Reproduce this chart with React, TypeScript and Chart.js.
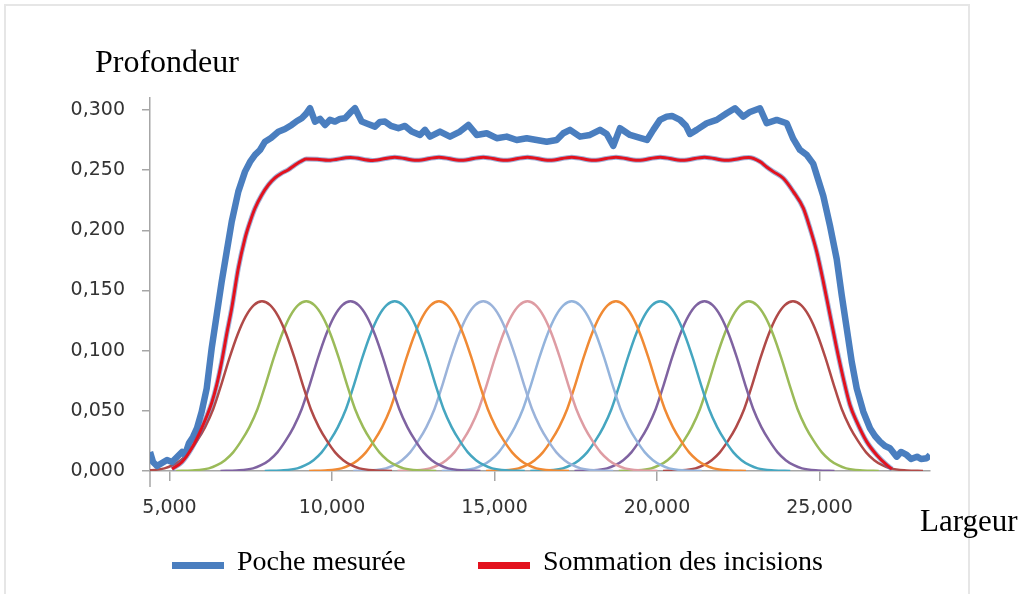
import React, { useEffect, useRef } from 'react';
import { Chart, registerables } from 'chart.js';

Chart.register(...registerables);

// ---- axis / labels ----
const xTickValues = [5000, 10000, 15000, 20000, 25000];
const yTickValues = [0, 0.05, 0.1, 0.15, 0.2, 0.25, 0.3];
const xAxisTitle = 'Largeur';
const yAxisTitle = 'Profondeur';
const legendLabels = ['Poche mesurée', 'Sommation des incisions'];

// ---- measured pocket (blue) ----
const measuredX = [4400, 4492, 4615, 4769, 4923, 5077, 5231, 5385, 5477, 5600, 5723, 5846, 5991, 6145, 6298, 6452, 6606, 6760, 6914, 7117, 7323, 7477, 7631, 7785, 7938, 8123, 8348, 8554, 8760, 8923, 9068, 9200, 9323, 9477, 9631, 9785, 9938, 10092, 10246, 10400, 10554, 10708, 10914, 11108, 11323, 11477, 11631, 11815, 12040, 12246, 12452, 12708, 12862, 13015, 13323, 13631, 13938, 14194, 14452, 14760, 15068, 15375, 15683, 15991, 16298, 16606, 16914, 17117, 17323, 17631, 17938, 18246, 18452, 18655, 18862, 19169, 19477, 19692, 19886, 20092, 20298, 20462, 20708, 20892, 21015, 21221, 21529, 21837, 22145, 22400, 22655, 22862, 23169, 23375, 23683, 23991, 24194, 24400, 24606, 24809, 24963, 25117, 25323, 25529, 25683, 25837, 25991, 26145, 26348, 26554, 26708, 26862, 27015, 27169, 27375, 27508, 27683, 27815, 28000, 28123, 28298, 28400];
const measuredY = [0.0158, 0.0075, 0.0042, 0.0067, 0.0091, 0.0075, 0.0116, 0.0158, 0.0133, 0.0233, 0.0283, 0.0357, 0.0493, 0.0687, 0.1020, 0.1297, 0.1574, 0.1823, 0.2072, 0.2322, 0.2488, 0.2569, 0.2627, 0.2668, 0.2737, 0.2768, 0.2820, 0.2843, 0.2876, 0.2909, 0.2932, 0.2968, 0.3015, 0.2904, 0.2926, 0.2876, 0.2918, 0.2904, 0.2926, 0.2932, 0.2976, 0.3015, 0.2904, 0.2884, 0.2862, 0.2901, 0.2904, 0.2868, 0.2849, 0.2868, 0.2821, 0.2793, 0.2835, 0.2779, 0.2821, 0.2779, 0.2821, 0.2876, 0.2793, 0.2807, 0.2766, 0.2779, 0.2751, 0.2766, 0.2751, 0.2737, 0.2751, 0.2807, 0.2835, 0.2779, 0.2793, 0.2835, 0.2801, 0.2702, 0.2849, 0.2793, 0.2768, 0.2751, 0.2835, 0.2918, 0.2945, 0.2951, 0.2918, 0.2868, 0.2801, 0.2835, 0.2890, 0.2918, 0.2973, 0.3015, 0.2945, 0.2984, 0.3015, 0.2890, 0.2918, 0.2890, 0.2760, 0.2668, 0.2627, 0.2552, 0.2419, 0.2286, 0.2038, 0.1762, 0.1463, 0.1186, 0.0909, 0.0687, 0.0493, 0.0355, 0.0291, 0.0244, 0.0208, 0.0189, 0.0119, 0.0158, 0.0133, 0.0100, 0.0119, 0.0100, 0.0106, 0.0133];

// ---- sum of incisions (red) ----
const sumX = [5077, 5385, 5683, 5991, 6298, 6452, 6606, 6760, 6914, 7117, 7323, 7477, 7631, 7837, 8040, 8246, 8452, 8646, 8862, 9068, 9208, 9550, 9888, 10569, 11250, 11931, 12611, 13292, 13973, 14654, 15334, 16015, 16696, 17377, 18057, 18738, 19419, 20100, 20780, 21461, 22142, 22823, 23169, 23375, 23578, 23886, 24194, 24502, 24708, 24914, 25117, 25323, 25529, 25732, 25938, 26145, 26452, 26760, 27068, 27231];
const sumY = [0.0017, 0.0075, 0.0189, 0.0357, 0.0565, 0.0715, 0.0909, 0.1139, 0.1352, 0.1685, 0.1934, 0.2070, 0.2184, 0.2294, 0.2377, 0.2436, 0.2475, 0.2502, 0.2544, 0.2577, 0.2592, 0.2590, 0.2582, 0.2606, 0.2581, 0.2608, 0.2582, 0.2608, 0.2582, 0.2608, 0.2582, 0.2608, 0.2582, 0.2608, 0.2582, 0.2608, 0.2582, 0.2608, 0.2582, 0.2608, 0.2582, 0.2605, 0.2571, 0.2527, 0.2488, 0.2433, 0.2322, 0.2184, 0.2017, 0.1823, 0.1574, 0.1297, 0.1020, 0.0771, 0.0549, 0.0410, 0.0244, 0.0133, 0.0050, 0.0017];

// ---- individual incisions (13 identical bells) ----
const incisionCenters = [7846, 9208, 10569, 11931, 13292, 14654, 16015, 17377, 18738, 20100, 21461, 22823, 24184];
const incisionOffsets = [-4000, -3500, -3000, -2750, -2500, -2250, -2000, -1750, -1500, -1250, -1000, -750, -500, -250, 0, 250, 500, 750, 1000, 1250, 1500, 1750, 2000, 2250, 2500, 2750, 3000, 3500, 4000];
const incisionProfile = [0.0, 0.0005, 0.0022, 0.0048, 0.0090, 0.0155, 0.0250, 0.0365, 0.0515, 0.0720, 0.0940, 0.1135, 0.1285, 0.1378, 0.1410, 0.1378, 0.1285, 0.1135, 0.0940, 0.0720, 0.0515, 0.0365, 0.0250, 0.0155, 0.0090, 0.0048, 0.0022, 0.0005, 0.0];
const incisionColors = ['#B04A48', '#9BBB59', '#7F63A1', '#45A6C0', '#F08A34', '#9BB3DA', '#DE9CA3', '#94B4DC', '#F08A34', '#45A6C0', '#7F63A1', '#9BBB59', '#B04A48'];

const measuredColor = '#4A7EBF';
const sumColor = '#E3121E';
const axisColor = '#A6A6A6';

const serif = "'Liberation Serif', 'Times New Roman', serif";

// small extension of the vertical axis below the horizontal one (Excel "cross" tick style)
const axisCrossPlugin = {
  id: 'axisCross',
  afterDraw(chart: any) {
    const { ctx, chartArea } = chart;
    ctx.save();
    ctx.strokeStyle = axisColor;
    ctx.lineWidth = 1.5;
    ctx.beginPath();
    ctx.moveTo(chartArea.left, chartArea.bottom);
    ctx.lineTo(chartArea.left, chartArea.bottom + 16);
    ctx.stroke();
    ctx.restore();
  },
};

export default function App() {
  const canvasRef = useRef<HTMLCanvasElement | null>(null);

  useEffect(() => {
    const canvas = canvasRef.current;
    if (!canvas) return;

    const measuredData = measuredX.map((x, i) => ({ x, y: measuredY[i] }));
    const sumData = sumX.map((x, i) => ({ x, y: sumY[i] }));

    const incisionSets = incisionCenters.map((c, k) => ({
      label: 'Incision ' + (k + 1),
      data: incisionOffsets.map((o, i) => ({ x: c + o, y: incisionProfile[i] })),
      borderColor: incisionColors[k],
      borderWidth: 2.5,
      pointRadius: 0,
      fill: false,
      cubicInterpolationMode: 'monotone' as const,
      order: 10 + k,
    }));

    const chart = new Chart(canvas, {
      type: 'line',
      data: {
        datasets: [
          {
            label: legendLabels[1],
            data: sumData,
            borderColor: sumColor,
            borderWidth: 3,
            pointRadius: 0,
            fill: false,
            cubicInterpolationMode: 'monotone',
            order: 0,
          },
          {
            label: 'outline',
            data: sumData,
            borderColor: 'rgba(80,115,185,0.55)',
            borderWidth: 5,
            pointRadius: 0,
            fill: false,
            cubicInterpolationMode: 'monotone',
            order: 1,
          },
          {
            label: legendLabels[0],
            data: measuredData,
            borderColor: measuredColor,
            borderWidth: 6.5,
            pointRadius: 0,
            fill: false,
            tension: 0,
            borderJoinStyle: 'round',
            order: 2,
          },
          ...incisionSets,
        ] as any,
      },
      options: {
        animation: false,
        responsive: false,
        devicePixelRatio: 1,
        events: [],
        layout: { padding: { top: 98, right: 94, left: 0, bottom: 0 } },
        plugins: {
          legend: { display: false },
          tooltip: { enabled: false },
          title: { display: false },
        },
        scales: {
          x: {
            type: 'linear',
            min: 4400,
            max: 28400,
            afterBuildTicks: (scale: any) => {
              scale.ticks = xTickValues.map((v) => ({ value: v }));
            },
            afterFit: (scale: any) => {
              scale.height = 123;
            },
            ticks: {
              autoSkip: false,
              maxRotation: 0,
              padding: 16,
              color: '#333333',
              font: { family: "'DejaVu Sans', sans-serif", size: 19 },
              callback: (v: any) => Number(v).toLocaleString('en-US'),
            },
            grid: {
              drawOnChartArea: false,
              drawTicks: true,
              tickLength: 10,
              color: axisColor,
              lineWidth: 1.5,
            },
            border: { color: axisColor, width: 1.5 },
          },
          y: {
            type: 'linear',
            min: 0,
            max: 0.31,
            afterBuildTicks: (scale: any) => {
              scale.ticks = yTickValues.map((v) => ({ value: v }));
            },
            afterFit: (scale: any) => {
              scale.width = 150;
            },
            ticks: {
              autoSkip: false,
              padding: 17,
              color: '#333333',
              font: { family: "'DejaVu Sans', sans-serif", size: 19 },
              callback: (v: any) => Number(v).toFixed(3).replace('.', ','),
            },
            grid: {
              drawOnChartArea: false,
              drawTicks: true,
              tickLength: 8,
              color: axisColor,
              lineWidth: 1.5,
            },
            border: { color: axisColor, width: 1.5 },
          },
        },
      },
      plugins: [axisCrossPlugin],
    });

    return () => {
      chart.destroy();
    };
  }, []);

  const textBase: React.CSSProperties = {
    position: 'absolute',
    fontFamily: serif,
    color: '#000',
    whiteSpace: 'nowrap',
    margin: 0,
  };

  return (
    <div
      style={{
        position: 'fixed',
        left: 0,
        top: 0,
        width: 1024,
        height: 594,
        overflow: 'hidden',
        background: '#fff',
      }}
    >
      <div
        style={{
          position: 'absolute',
          left: 4,
          top: 4,
          width: 966,
          height: 620,
          border: '2px solid #e6e6e6',
          boxSizing: 'border-box',
        }}
      />
      <canvas
        ref={canvasRef}
        width={1024}
        height={594}
        style={{ position: 'absolute', left: 0, top: 0, width: 1024, height: 594 }}
      />
      <div style={{ ...textBase, left: 95, top: 45, fontSize: 32, lineHeight: '32px' }}>{yAxisTitle}</div>
      <div style={{ ...textBase, left: 920, top: 505, fontSize: 31, lineHeight: '31px' }}>{xAxisTitle}</div>
      <div style={{ position: 'absolute', left: 172, top: 562, width: 52, height: 7, background: measuredColor }} />
      <div style={{ ...textBase, left: 237, top: 547, fontSize: 28, lineHeight: '28px' }}>{legendLabels[0]}</div>
      <div style={{ position: 'absolute', left: 478, top: 562, width: 52, height: 7, background: sumColor }} />
      <div style={{ ...textBase, left: 543, top: 547, fontSize: 28, lineHeight: '28px' }}>{legendLabels[1]}</div>
    </div>
  );
}
